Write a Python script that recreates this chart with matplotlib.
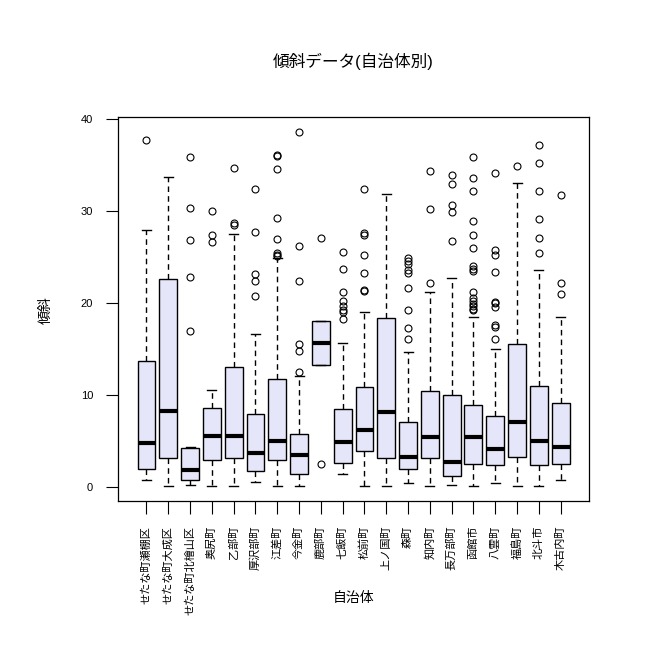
import matplotlib
matplotlib.use("Agg")
import matplotlib.pyplot as plt


# ===================================
# Data
# ===================================

names = ["せたな町瀬棚区", "せたな町大成区", "せたな町北檜山区", "奥尻町", "乙部町",
         "厚沢部町", "江差町", "今金町", "鹿部町", "七飯町", "松前町", "上ノ国町",
         "森町", "知内町", "長万部町", "函館市", "八雲町", "福島町", "北斗市", "木古内町"]

whislo = [0.76, 0.1, 0.2, 0.1, 0.1, 0.47, 0.1, 0.1, 13.2, 1.38,
          0.1, 0.1, 0.4, 0.1, 0.2, 0.1, 0.4, 0.1, 0.1, 0.76]
q1 = [1.92, 3.1, 0.76, 2.9, 3.1, 1.67, 2.9, 1.41, 13.2, 2.57,
      3.9, 3.1, 1.92, 3.1, 1.2, 2.5, 2.35, 3.2, 2.35, 2.5]
med = [4.75, 8.2, 1.85, 5.54, 5.54, 3.66, 5.0, 3.48, 15.6, 4.86,
       6.16, 8.1, 3.22, 5.4, 2.65, 5.4, 4.1, 7.03, 5.0, 4.3]
q3 = [13.7, 22.6, 4.25, 8.55, 13.0, 7.9, 11.7, 5.72, 18.0, 8.44,
      10.83, 18.3, 7.03, 10.36, 9.96, 8.88, 7.68, 15.5, 10.95, 9.1]
whishi = [27.9, 33.7, 4.28, 10.5, 27.5, 16.6, 24.85, 12.07, 18.0, 15.6,
          19.0, 31.8, 14.6, 21.2, 22.7, 18.4, 15.0, 33.0, 23.6, 18.4]
fliers = [
    [37.7],
    [],
    [35.8, 30.3, 26.85, 22.8, 16.96],
    [30.0, 27.35, 26.56],
    [34.6, 28.6, 28.4],
    [32.4, 27.7, 23.1, 22.4, 20.76],
    [36.0, 35.9, 34.5, 29.2, 26.96, 25.4, 25.2, 25.1],
    [38.55, 26.1, 22.3, 15.47, 14.75, 12.5],
    [27.07, 2.5],
    [25.47, 23.7, 21.2, 20.2, 19.6, 19.2, 18.95, 18.2],
    [32.35, 27.57, 27.36, 25.18, 23.2, 21.4, 21.3],
    [],
    [24.8, 24.5, 24.2, 23.5, 23.2, 21.6, 19.2, 17.25, 16.0],
    [34.3, 30.2, 22.17],
    [33.9, 32.9, 30.65, 29.85, 26.7],
    [35.8, 33.55, 32.1, 28.9, 27.4, 25.9, 23.95, 23.7, 23.4, 21.2,
     20.5, 20.2, 19.9, 19.6, 19.3, 19.2],
    [34.1, 25.7, 25.2, 23.3, 20.1, 19.95, 19.55, 17.6, 17.3, 16.1],
    [34.9],
    [37.1, 35.2, 32.1, 29.1, 27.0, 25.4],
    [31.7, 22.17, 20.9],
]

y_ticks = [0, 10, 20, 30, 40]


# ===================================
# Plotting
# ===================================

plt.rcParams['font.family'] = ['Liberation Sans', 'Noto Sans CJK JP', 'DejaVu Sans']

fig = plt.figure(figsize=(6.49, 6.48), dpi=100)
ax = fig.add_axes([0.182, 0.227, 0.7255, 0.592])

stats = []
for i in range(len(names)):
    stats.append({'whislo': whislo[i], 'q1': q1[i], 'med': med[i], 'q3': q3[i],
                  'whishi': whishi[i], 'fliers': fliers[i], 'label': names[i]})

ax.bxp(stats, positions=range(1, len(names) + 1), widths=0.82, patch_artist=True,
       boxprops=dict(facecolor='#E6E6FA', edgecolor='black', linewidth=1.0),
       medianprops=dict(color='black', linewidth=3, solid_capstyle='butt'),
       whiskerprops=dict(color='black', linewidth=1.0, linestyle=(0, (4, 3))),
       capprops=dict(color='black', linewidth=1.0),
       flierprops=dict(marker='o', markerfacecolor='none', markeredgecolor='black',
                       markersize=5, markeredgewidth=0.8))

n = len(names)
ax.set_xlim(0.5 - 0.04 * n, n + 0.5 + 0.04 * n)
ax.set_ylim(-1.544, 40.14)
ax.set_yticks(y_ticks)
ax.set_yticklabels([str(t) for t in y_ticks], fontsize=8)
ax.set_xticks(range(1, n + 1))
ax.set_xticklabels(names, rotation=90, fontsize=8, va='top', ha='center')
ax.tick_params(axis='both', direction='out', length=9, width=0.8, pad=9)

for sp in ax.spines.values():
    sp.set_linewidth(0.9)

# Titles
fig.text(0.545, 0.905, "傾斜データ(自治体別)", ha='center', va='center', fontsize=12)
fig.text(0.545, 0.077, "自治体", ha='center', va='center', fontsize=10)
fig.text(0.07, 0.522, "傾斜", ha='center', va='center', rotation=90, fontsize=10)

plt.savefig("out.png", dpi=100)
